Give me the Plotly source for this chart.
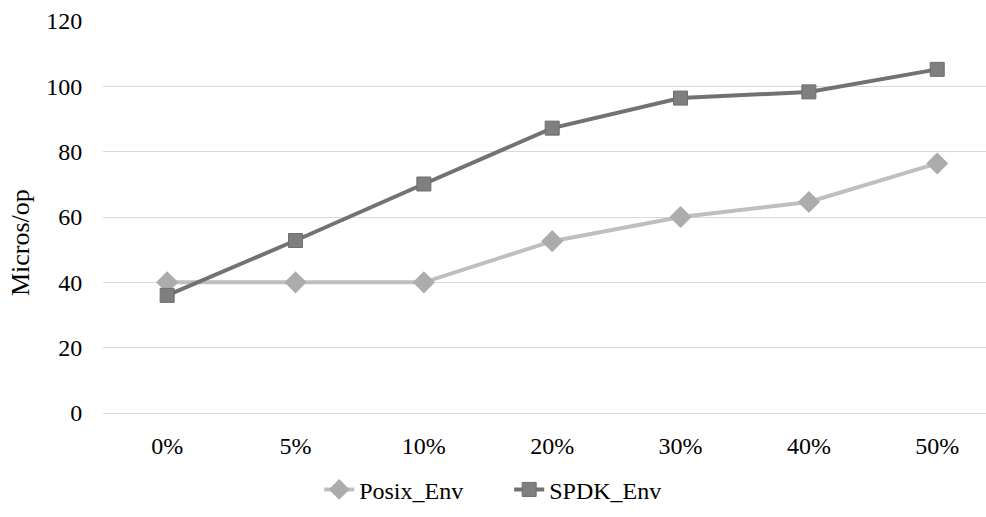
import plotly.graph_objects as go

categories = ["0%", "5%", "10%", "20%", "30%", "40%", "50%"]
posix_env = [40.0, 40.0, 40.0, 52.6, 60.0, 64.6, 76.4]
spdk_env = [36.0, 52.8, 70.1, 87.2, 96.4, 98.3, 105.2]
y_ticks = [0, 20, 40, 60, 80, 100, 120]
y_title = "Micros/op"

font_family = "Liberation Serif"
fs = 24

fig = go.Figure()
fig.add_trace(go.Scatter(
    x=categories, y=posix_env, name="Posix_Env", mode="lines+markers",
    line=dict(color="#BFBFBF", width=4),
    marker=dict(symbol="diamond", size=17, color="#ADABAB", line=dict(width=0)),
))
fig.add_trace(go.Scatter(
    x=categories, y=spdk_env, name="SPDK_Env", mode="lines+markers",
    line=dict(color="#767171", width=4),
    marker=dict(symbol="square", size=14, color="#7F7F7F", line=dict(color="#6E6E6E", width=1)),
))

fig.update_layout(
    width=986, height=517,
    margin=dict(l=103, r=0, t=21, b=104),
    paper_bgcolor="white", plot_bgcolor="white",
    font=dict(family=font_family, size=fs, color="#000000"),
    showlegend=True,
    legend=dict(orientation="h", x=0.46, xanchor="center", y=-0.196, yanchor="middle",
                font=dict(family=font_family, size=fs), traceorder="normal",
                entrywidth=145, entrywidthmode="pixels"),
    xaxis=dict(type="category", range=[-0.5, 6.38], showgrid=False, zeroline=False,
               showline=False, ticks="outside", ticklen=11, tickcolor="rgba(0,0,0,0)",
               tickfont=dict(family=font_family, size=fs)),
    yaxis=dict(range=[0, 120], tickvals=y_ticks, showgrid=True, gridcolor="#D9D9D9",
               gridwidth=1.3, zeroline=True, zerolinecolor="#D9D9D9", zerolinewidth=1.3,
               showline=False, ticks="outside", ticklen=15,
               tickcolor="rgba(0,0,0,0)", tickfont=dict(family=font_family, size=fs)),
    annotations=[dict(text=y_title, textangle=-90, xref="paper", yref="paper",
                      x=-0.094, y=0.436, xanchor="center", yanchor="middle",
                      showarrow=False, font=dict(family=font_family, size=26))],
)

fig.write_html("out.html")
